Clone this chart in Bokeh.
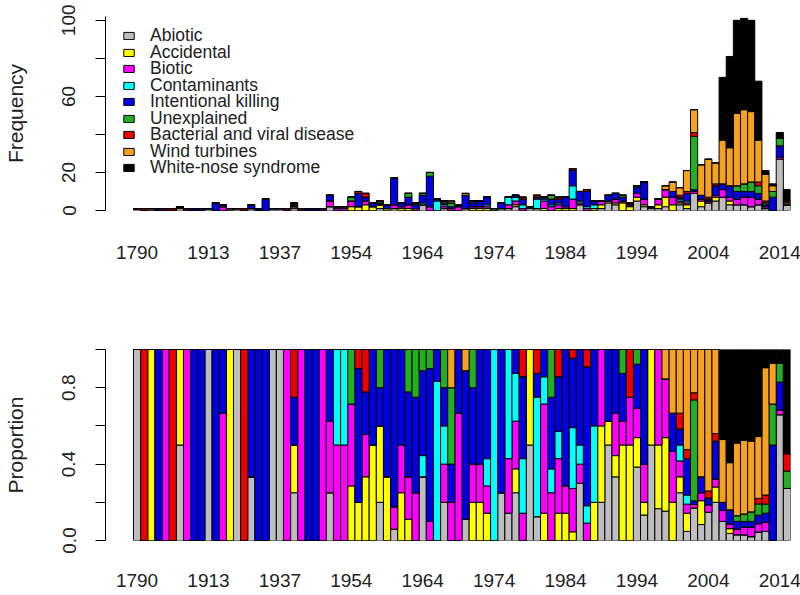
import numpy as np
from bokeh.plotting import figure
from bokeh.models import ColumnDataSource, FixedTicker, Legend, LegendItem, Range1d
from bokeh.layouts import column
from bokeh.embed import file_html
from bokeh.resources import INLINE

years = [1790, 1862, 1880, 1889, 1895, 1900, 1903, 1906, 1909, 1911,
         1913, 1916, 1919, 1921, 1924, 1926, 1928, 1930, 1932, 1935,
         1937, 1939, 1941, 1945, 1947, 1948, 1949, 1950, 1951, 1952] + list(range(1954, 2016))

causes = ["Abiotic", "Accidental", "Biotic", "Contaminants", "Intentional killing",
          "Unexplained", "Bacterial and viral disease", "Wind turbines", "White-nose syndrome"]
colors = ["#BEBEBE", "#FFFF00", "#FF00FF", "#00FFFF", "#0000E0",
          "#22B022", "#EE0000", "#F7A21E", "#000000"]

abiotic = [1,0,0,0,0,0,1,0,0,0, 1,0,0,0,1,0,1,0,0,1, 1,0,1,0,0,0,0,2,0,0,
           0,0,0,0,1,0,1,0,0,0, 3,0,0,1,0,0,1,0,0,0, 0,1,1,2,0,1,1,0,0,0,
           0,0,3,0,0,1,4,3,0,0, 5,2,1,1,2,0,3,1,9,2, 4,5,7,3,3,3,2,3,1,0, 27,3]
accidental = [0,0,1,0,0,0,1,0,0,0, 0,0,0,1,0,0,0,0,0,0, 0,0,1,0,0,0,0,0,0,0,
              2,2,3,2,2,1,0,1,1,0, 0,0,0,0,0,0,0,1,1,1, 0,0,0,1,0,1,0,1,0,1,
              1,1,0,0,1,2,1,1,4,2, 2,1,1,2,5,3,1,2,0,3, 0,2,0,2,0,0,0,0,0,0, 0,0]
biotic = [0,0,0,0,1,0,0,1,0,0, 0,0,2,0,0,0,0,0,0,0, 0,1,0,1,0,0,1,3,1,1,
          3,0,2,0,0,0,2,1,2,1, 0,2,0,1,1,2,0,1,1,1, 0,0,2,2,1,0,0,4,2,2,
          1,5,1,1,0,2,0,2,1,1, 2,3,0,3,4,4,1,1,1,1, 1,1,4,2,3,4,5,3,1,0, 1,0]
contaminants = [0,0,0,0,0,0,0,0,0,0, 0,0,0,0,0,0,0,0,0,0, 0,0,0,0,0,0,0,0,1,1,
                0,0,0,0,0,0,0,0,0,0, 1,0,5,1,0,0,0,0,0,1, 1,0,4,2,2,0,5,1,1,1,
                0,7,1,1,2,0,0,0,0,0, 0,0,0,0,0,0,1,1,0,0, 0,0,0,0,0,0,0,0,0,0, 0,0]
intentional = [0,0,0,1,0,0,0,0,1,1, 0,4,1,0,0,0,2,1,6,0, 0,0,1,0,1,1,0,3,0,0,
               0,7,2,2,1,2,14,2,4,2, 4,16,1,1,1,1,7,2,3,4, 0,3,0,1,3,0,1,1,3,2,
               5,8,5,8,2,0,3,3,2,0, 3,9,0,0,0,3,1,4,1,2, 1,5,3,6,4,3,3,3,1,7, 6,0]
unexplained = [0,0,0,0,0,0,0,0,0,0, 0,0,0,0,0,0,0,0,0,0, 0,0,0,0,0,0,0,0,0,0,
               2,0,0,0,1,0,0,0,2,1, 1,2,0,1,2,0,0,1,0,0, 0,0,0,0,0,0,0,0,2,0,
               0,0,0,0,0,0,0,0,1,0, 1,0,0,0,0,0,0,0,28,0, 0,0,0,0,3,4,5,4,1,3, 4,1]
disease = [0,1,0,0,0,1,0,0,0,0, 0,0,0,0,0,1,0,0,0,0, 0,0,1,0,0,0,0,0,0,0,
           0,1,2,0,0,0,0,0,0,0, 0,0,0,0,0,0,0,0,0,0, 0,0,0,0,1,0,1,0,0,1,
           0,1,0,1,0,0,0,0,0,1, 0,0,0,0,0,0,1,1,2,0, 1,1,0,0,0,0,0,2,1,0, 0,1]
wind = [0,0,0,0,0,0,0,0,0,0, 0,0,0,0,0,0,0,0,0,0, 0,0,0,0,0,0,0,0,0,0,
        0,0,0,0,0,0,0,0,0,0, 0,0,0,0,1,0,1,0,0,0, 0,0,0,0,0,0,0,0,0,0,
        0,0,0,0,0,0,0,0,0,0, 0,0,0,0,2,5,4,11,12,16, 20,11,23,20,38,39,37,22,14,3, 0,0]
wns = [0]*82 + [33,48,49,48,48,31,2,1,3,6]

series = [abiotic, accidental, biotic, contaminants, intentional,
          unexplained, disease, wind, wns]
label_idx = list(range(0, 91, 10))

n = len(years)
counts = np.array(series, dtype=float)
totals = counts.sum(axis=0)
props = counts / totals

keys = ["s%d" % i for i in range(len(causes))]
top_data = {"x": list(range(n))}
bot_data = {"x": list(range(n))}
for k, c, pr in zip(keys, counts, props):
    top_data[k] = list(c)
    bot_data[k] = list(pr)
src_top = ColumnDataSource(top_data)
src_bot = ColumnDataSource(bot_data)

FONT = "Liberation Sans"
TXT = "#222222"


def style(p, yticks, yover, ylabel, xstand):
    p.xgrid.visible = False
    p.ygrid.visible = False
    p.outline_line_color = None
    xa = p.xaxis[0]
    xa.ticker = FixedTicker(ticks=label_idx)
    xa.major_label_overrides = {i: str(years[i]) for i in label_idx}
    xa.axis_line_color = None
    xa.major_tick_line_color = None
    xa.minor_tick_line_color = None
    xa.major_tick_out = 0
    xa.major_tick_in = 0
    xa.major_label_standoff = xstand
    xa.major_label_text_font = FONT
    xa.major_label_text_font_size = "19px"
    xa.major_label_text_color = TXT
    ya = p.yaxis[0]
    ya.ticker = FixedTicker(ticks=yticks)
    ya.major_label_overrides = yover
    ya.major_label_orientation = "vertical"
    ya.minor_tick_line_color = None
    ya.major_tick_out = 10
    ya.major_tick_in = 0
    ya.major_label_standoff = 20
    ya.major_label_text_font = FONT
    ya.major_label_text_font_size = "19px"
    ya.major_label_text_color = TXT
    ya.axis_label = ylabel
    ya.axis_label_standoff = 33
    ya.axis_label_text_font = FONT
    ya.axis_label_text_font_size = "21px"
    ya.axis_label_text_font_style = "normal"
    ya.axis_label_text_color = TXT
    ya.axis_line_color = "black"
    ya.major_tick_line_color = "black"


p1 = figure(frame_width=685, frame_height=194, output_backend="svg", toolbar_location=None,
            x_range=Range1d(-4.42, 91.5), y_range=Range1d(0, 102),
            min_border_left=100, min_border_right=15, min_border_top=16, min_border_bottom=60)
r1 = p1.vbar_stack(keys, x="x", width=1.0, source=src_top, fill_color=colors,
                   line_color="black", line_width=1)
style(p1, [0, 20, 40, 60, 80, 100], {40: "", 80: ""}, "Frequency", 35)

# one single-entry legend per cause, stacked at R's legend line spacing
ROW = 16.5
for k, (c, r) in enumerate(zip(causes, r1)):
    lg = Legend(items=[LegendItem(label=c, renderers=[r])],
                location=(17, round(163.7 - ROW * k)), orientation="vertical",
                glyph_width=13, glyph_height=9, label_height=16, spacing=0,
                label_standoff=15, padding=0, margin=0,
                border_line_color=None, background_fill_alpha=0,
                label_text_font=FONT, label_text_font_size="17.5px", label_text_color=TXT)
    p1.add_layout(lg)

p2 = figure(frame_width=685, frame_height=191, output_backend="svg", toolbar_location=None,
            x_range=Range1d(-4.42, 91.5), y_range=Range1d(0, 1),
            min_border_left=100, min_border_right=15, min_border_top=79, min_border_bottom=47)
p2.vbar_stack(keys, x="x", width=1.0, source=src_bot, fill_color=colors,
              line_color="black", line_width=1)
style(p2, [0, 0.2, 0.4, 0.6, 0.8, 1.0],
      {0: "0.0", 0.2: "", 0.4: "0.4", 0.6: "", 0.8: "0.8", 1.0: ""}, "Proportion", 33)

layout = column(p1, p2, spacing=0)
open("out.html", "w").write(file_html(layout, INLINE))
